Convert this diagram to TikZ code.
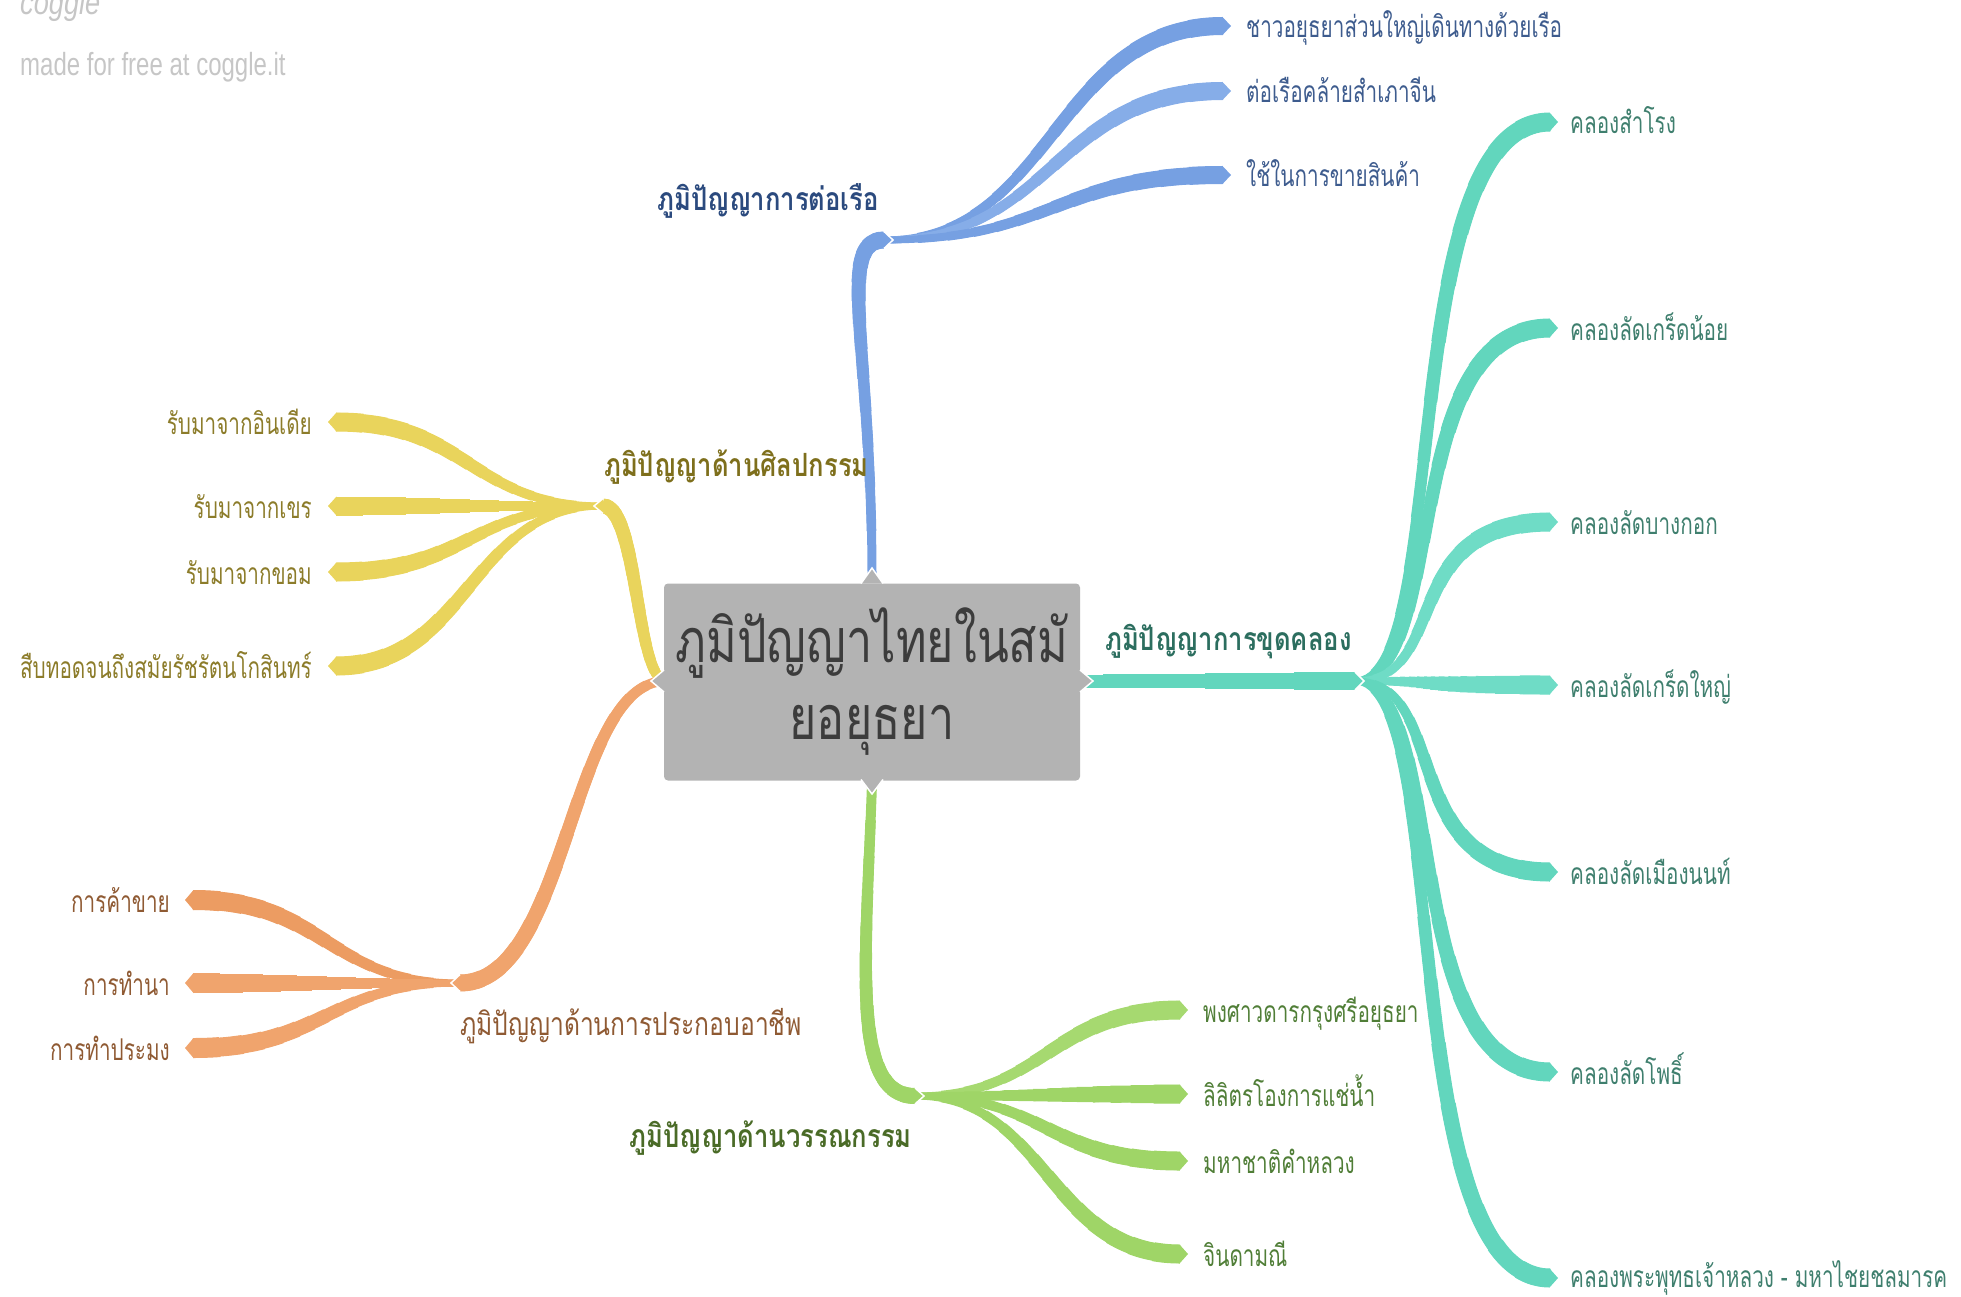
\documentclass[tikz,border=0pt]{standalone}
\usepackage{fontspec}
\usetikzlibrary{calc}
\newfontfamily\thai[Script=Thai,FakeStretch=0.69]{Loma}
\newfontfamily\thaiH[Script=Thai,FakeStretch=0.80]{Loma}
\newfontfamily\thaiO[Script=Thai,FakeStretch=0.77]{Loma}
\newfontfamily\thaiT[Script=Thai,FakeStretch=0.765]{Loma}
\newfontfamily\wmfont[FakeStretch=0.75]{Liberation Sans}
\newfontfamily\logofont[FakeStretch=0.8]{Liberation Sans}
\definecolor{bB}{HTML}{76A0E2}
\definecolor{bB2}{HTML}{86ADE8}
\definecolor{bT}{HTML}{3E5C8E}
\definecolor{bH}{HTML}{2B4A7E}
\definecolor{tB}{HTML}{62D6BD}
\definecolor{tB2}{HTML}{6FDCC6}
\definecolor{tT}{HTML}{3F7F6E}
\definecolor{tH}{HTML}{2C6E5F}
\definecolor{yB}{HTML}{E9D45C}
\definecolor{yT}{HTML}{8C7C2A}
\definecolor{yH}{HTML}{7E6F1C}
\definecolor{oB}{HTML}{F0A46D}
\definecolor{oB2}{HTML}{EC9C62}
\definecolor{oT}{HTML}{8F5A33}
\definecolor{gB}{HTML}{9FD567}
\definecolor{gB2}{HTML}{A6D970}
\definecolor{gT}{HTML}{507E37}
\definecolor{gH}{HTML}{4A6B27}
\definecolor{boxg}{HTML}{B3B3B3}
\definecolor{boxt}{HTML}{3C3C3C}
\definecolor{wm}{HTML}{C6C6C6}

\newcommand\ribbon[7]{%
 \foreach \k in {0,...,13}{%
   \pgfmathsetmacro\tk{\k/14}%
   \pgfmathsetmacro\wk{#6+(#7-#6)*\k/13}%
   \coordinate (r01) at ($(#1)!\tk!(#2)$);
   \coordinate (r12) at ($(#2)!\tk!(#3)$);
   \coordinate (r23) at ($(#3)!\tk!(#4)$);
   \coordinate (r012) at ($(r01)!\tk!(r12)$);
   \coordinate (r123) at ($(r12)!\tk!(r23)$);
   \coordinate (r0123) at ($(r012)!\tk!(r123)$);
   \draw[draw=#5, line width=\wk pt] (r0123) .. controls (r123) and (r23) .. (#4);
 }}
\newcommand\sbranch[7]{%
  \coordinate (hm1) at ($(#1)!#3!(#2)$);
  \coordinate (hm2) at ($(#1)!#4!(#2)$);
  \coordinate (hc1) at (hm1 |- #1);
  \coordinate (hc2) at (hm2 |- #2);
  \ribbon{#1}{hc1}{hc2}{#2}{#5}{#6}{#7}}
\newcommand\hbranch[6]{\sbranch{#1}{#2}{#3}{#3}{#4}{#5}{#6}}
\newcommand\tipR[3]{\fill[#3] ($(#1)+(-0.5,-#2/2)$) -- ($(#1)+(8,0)$) -- ($(#1)+(-0.5,#2/2)$) -- cycle;}
\newcommand\tipL[3]{\fill[#3] ($(#1)+(0.5,-#2/2)$) -- ($(#1)+(-8,0)$) -- ($(#1)+(0.5,#2/2)$) -- cycle;}
\newcommand\jtipR[3]{\filldraw[fill=#3,draw=white,line width=1.5pt] ($(#1)+(0,-#2/2)$) -- ($(#1)+(9,0)$) -- ($(#1)+(0,#2/2)$);}
\newcommand\jtipL[3]{\filldraw[fill=#3,draw=white,line width=1.5pt] ($(#1)+(0,-#2/2)$) -- ($(#1)+(-9,0)$) -- ($(#1)+(0,#2/2)$);}

\tikzset{
  leaf/.style={font=\thai\fontsize{30}{34}\selectfont, inner sep=0pt, text height=30pt, text depth=6pt},
  head/.style={font=\thaiH\bfseries\fontsize{32}{36}\selectfont, inner sep=0pt, text height=28pt, text depth=7pt},
  headn/.style={font=\thaiO\fontsize{32}{36}\selectfont, inner sep=0pt, text height=28pt, text depth=7pt},
  wmtext/.style={font=\wmfont\fontsize{32}{36}\selectfont, text=wm, inner sep=0pt},
}

\begin{document}
\begin{tikzpicture}[x=1pt,y=-1pt]
\useasboundingbox (0,0) rectangle (1961,1297);

% watermark
\node[font=\logofont\itshape\fontsize{34}{38}\selectfont, text=wm, inner sep=0pt, anchor=base west] (logo) at (20,15) {coggle};
\node[wmtext, anchor=base west] (made) at (20,76) {made for free at coggle.it};

% anchor points
\coordinate (rootT) at (872,578);
\coordinate (rootR) at (1078,681);
\coordinate (rootL) at (666,681);
\coordinate (rootB) at (872,783);
\coordinate (bJ) at (884,240);
\coordinate (tJ) at (1355,681);
\coordinate (yJ) at (603,506);
\coordinate (oJ) at (460,983);
\coordinate (gJ) at (915,1096);

% blue leaves
\coordinate (bE1) at (1223,26);
\coordinate (bE2) at (1223,91);
\coordinate (bE3) at (1223,175);
\hbranch{bJ}{bE1}{0.5}{bB}{7}{18} \tipR{bE1}{18}{bB}
\hbranch{bJ}{bE2}{0.5}{bB2}{7}{18} \tipR{bE2}{18}{bB2}
\hbranch{bJ}{bE3}{0.5}{bB}{7}{18} \tipR{bE3}{18}{bB}

% teal leaves
\foreach \n/\y in {1/122,2/328,3/522,4/685,5/872,6/1072,7/1278}{\coordinate (tE\n) at (1550,\y);}
\sbranch{tJ}{tE1}{0.5}{0.2}{tB}{7}{19} \tipR{tE1}{19}{tB}
\sbranch{tJ}{tE2}{0.5}{0.2}{tB}{7}{19} \tipR{tE2}{19}{tB}
\sbranch{tJ}{tE3}{0.5}{0.2}{tB2}{7}{19} \tipR{tE3}{19}{tB2}
\sbranch{tJ}{tE4}{0.5}{0.2}{tB2}{7}{19} \tipR{tE4}{19}{tB2}
\sbranch{tJ}{tE5}{0.5}{0.2}{tB}{7}{19} \tipR{tE5}{19}{tB}
\sbranch{tJ}{tE6}{0.5}{0.2}{tB}{7}{19} \tipR{tE6}{19}{tB}
\sbranch{tJ}{tE7}{0.5}{0.2}{tB}{7}{19} \tipR{tE7}{19}{tB}

% yellow leaves
\foreach \n/\y in {1/422,2/506,3/572,4/666}{\coordinate (yE\n) at (336,\y);}
\hbranch{yJ}{yE1}{0.5}{yB}{7}{19} \tipL{yE1}{19}{yB}
\hbranch{yJ}{yE2}{0.5}{yB}{7}{19} \tipL{yE2}{19}{yB}
\hbranch{yJ}{yE3}{0.5}{yB}{7}{19} \tipL{yE3}{19}{yB}
\hbranch{yJ}{yE4}{0.5}{yB}{7}{19} \tipL{yE4}{19}{yB}

% orange leaves
\foreach \n/\y in {1/900,2/983,3/1048}{\coordinate (oE\n) at (193,\y);}
\hbranch{oJ}{oE1}{0.5}{oB2}{7}{20} \tipL{oE1}{20}{oB2}
\hbranch{oJ}{oE2}{0.5}{oB}{7}{20} \tipL{oE2}{20}{oB}
\hbranch{oJ}{oE3}{0.5}{oB}{7}{20} \tipL{oE3}{20}{oB}

% green leaves
\foreach \n/\y in {1/1010,2/1094,3/1161,4/1254}{\coordinate (gE\n) at (1180,\y);}
\hbranch{gJ}{gE1}{0.5}{gB2}{7}{19} \tipR{gE1}{19}{gB2}
\hbranch{gJ}{gE2}{0.5}{gB}{7}{19} \tipR{gE2}{19}{gB}
\hbranch{gJ}{gE3}{0.5}{gB}{7}{19} \tipR{gE3}{19}{gB}
\hbranch{gJ}{gE4}{0.5}{gB}{7}{19} \tipR{gE4}{19}{gB}

% trunks
\ribbon{rootT}{872,350}{835,240}{bJ}{bB}{9}{17}
\ribbon{rootR}{1200,681}{1250,681}{tJ}{tB}{13}{18}
\ribbon{rootL}{636,681}{638,506}{yJ}{yB}{10}{15}
\ribbon{rootL}{569,681}{569,983}{oJ}{oB}{10}{17}
\ribbon{rootB}{866,960}{850,1096}{gJ}{gB}{10}{16}
\jtipR{bJ}{17}{bB}
\jtipR{tJ}{18}{tB}
\jtipL{yJ}{15}{yB}
\jtipL{oJ}{17}{oB}
\jtipR{gJ}{16}{gB}

% root box
\node[fill=boxg, rounded corners=4pt, minimum width=416pt, minimum height=197pt, inner sep=0pt,
      align=center, text=boxt, font=\thaiT\fontsize{61}{77}\selectfont] (root) at (872,682)
      {ภูมิปัญญาไทยในสมั\\ยอยุธยา};
\filldraw[fill=boxg, draw=white, line width=1.5pt] (861,583.5) -- (872,568) -- (883,583.5);
\filldraw[fill=boxg, draw=white, line width=1.5pt] (861,779.5) -- (872,794) -- (883,779.5);
\filldraw[fill=boxg, draw=white, line width=1.5pt] (664,670) -- (651,681) -- (664,692);
\filldraw[fill=boxg, draw=white, line width=1.5pt] (1080,670) -- (1093,681) -- (1080,692);

% headings
\node[head, text=bH, anchor=east] (hB) at (879,200) {ภูมิปัญญาการต่อเรือ};
\node[head, text=tH, anchor=west] (hT) at (1105,640) {ภูมิปัญญาการขุดคลอง};
\node[head, text=yH, anchor=west] (hY) at (604,466) {ภูมิปัญญาด้านศิลปกรรม};
\node[headn, text=oT, anchor=west] (hO) at (460,1025) {ภูมิปัญญาด้านการประกอบอาชีพ};
\node[head, text=gH, anchor=east] (hG) at (912,1137) {ภูมิปัญญาด้านวรรณกรรม};

% leaf texts
\node[leaf, text=bT, anchor=west] (lB1) at (1246,26) {ชาวอยุธยาส่วนใหญ่เดินทางด้วยเรือ};
\node[leaf, text=bT, anchor=west] (lB2) at (1246,91) {ต่อเรือคล้ายสำเภาจีน};
\node[leaf, text=bT, anchor=west] (lB3) at (1246,175) {ใช้ในการขายสินค้า};

\node[leaf, text=tT, anchor=west] (lT1) at (1570,122) {คลองสำโรง};
\node[leaf, text=tT, anchor=west] (lT2) at (1570,328) {คลองลัดเกร็ดน้อย};
\node[leaf, text=tT, anchor=west] (lT3) at (1570,522) {คลองลัดบางกอก};
\node[leaf, text=tT, anchor=west] (lT4) at (1570,685) {คลองลัดเกร็ดใหญ่};
\node[leaf, text=tT, anchor=west] (lT5) at (1570,872) {คลองลัดเมืองนนท์};
\node[leaf, text=tT, anchor=west] (lT6) at (1570,1072) {คลองลัดโพธิ์};
\node[leaf, text=tT, anchor=west] (lT7) at (1570,1275) {คลองพระพุทธเจ้าหลวง - มหาไชยชลมารค};

\node[leaf, text=yT, anchor=east] (lY1) at (312,422) {รับมาจากอินเดีย};
\node[leaf, text=yT, anchor=east] (lY2) at (312,506) {รับมาจากเขร};
\node[leaf, text=yT, anchor=east] (lY3) at (312,572) {รับมาจากขอม};
\node[leaf, text=yT, anchor=east] (lY4) at (312,666) {สืบทอดจนถึงสมัยรัชรัตนโกสินทร์};

\node[leaf, text=oT, anchor=east] (lO1) at (170,900) {การค้าขาย};
\node[leaf, text=oT, anchor=east] (lO2) at (170,983) {การทำนา};
\node[leaf, text=oT, anchor=east] (lO3) at (170,1048) {การทำประมง};

\node[leaf, text=gT, anchor=west] (lG1) at (1203,1010) {พงศาวดารกรุงศรีอยุธยา};
\node[leaf, text=gT, anchor=west] (lG2) at (1203,1094) {ลิลิตรโองการแช่น้ำ};
\node[leaf, text=gT, anchor=west] (lG3) at (1203,1161) {มหาชาติคำหลวง};
\node[leaf, text=gT, anchor=west] (lG4) at (1203,1254) {จินดามณี};
\end{tikzpicture}
\end{document}
